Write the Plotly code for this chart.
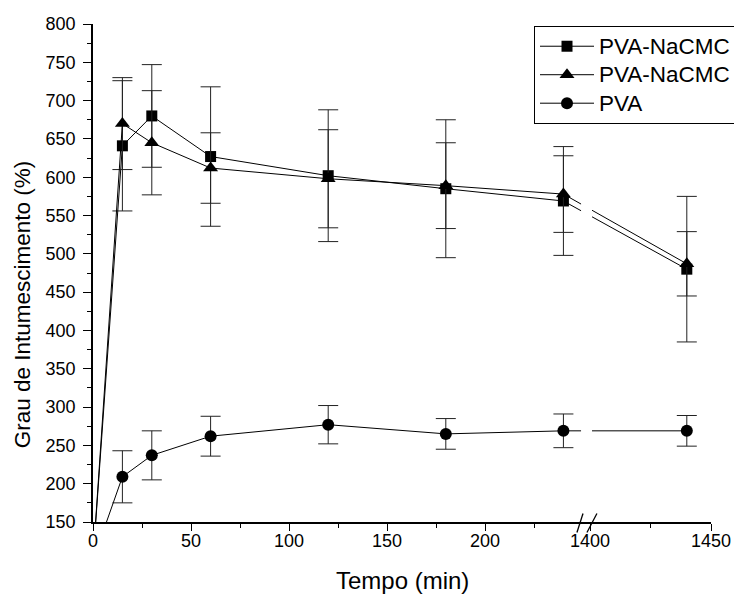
import plotly.graph_objects as go

# ---- data (time in minutes, swelling degree in %) ----
time = [0, 15, 30, 60, 120, 180, 240, 1440]
nacmc_a = [100, 641, 680, 627, 602, 585, 569, 480]
nacmc_a_err = [0, 85, 67, 91, 86, 90, 71, 95]
nacmc_b = [100, 670, 645, 612, 598, 589, 578, 487]
nacmc_b_err = [0, 60, 68, 46, 64, 56, 50, 42]
pva = [100, 209, 237, 262, 277, 265, 269, 269]
pva_err = [0, 34, 32, 26, 25, 20, 22, 20]

names = ["PVA-NaCMC", "PVA-NaCMC", "PVA"]
x_major = [0, 50, 100, 150, 200, 1400, 1450]
x_minor = [25, 75, 125, 175, 225, 1425]

# ---- broken x axis: 0-250 linear, then 1400-1450 on a second scale ----
SEG1_END = 250
SEG2_START = 1400
SEG2_OFFSET = 253.6
SEG2_SCALE = 1.234


def to_axis(t):
    return t if t <= SEG1_END else SEG2_OFFSET + (t - SEG2_START) * SEG2_SCALE


X_MAX = to_axis(1450)
FONT = "Arial, Liberation Sans, sans-serif"

fig = go.Figure()
series = [
    (nacmc_a, nacmc_a_err, "square", 11),
    (nacmc_b, nacmc_b_err, "triangle-up", 13),
    (pva, pva_err, "circle", 12),
]
for (vals, errs, sym, size), name in zip(series, names):
    fig.add_trace(go.Scatter(
        x=[to_axis(t) for t in time], y=vals,
        name='<span style="font-size:22.5px">' + name + "</span>",
        mode="lines+markers",
        line=dict(color="black", width=1),
        marker=dict(symbol=sym, size=size, color="black"),
        error_y=dict(type="data", array=errs, visible=True,
                     color="#222222", thickness=1, width=10),
    ))

# gap in lines at the axis break and the break marks
gx0, gx1 = 249.0 / X_MAX, 254.6 / X_MAX
fig.add_shape(type="rect", xref="paper", yref="paper",
              x0=gx0, x1=gx1, y0=0.008, y1=1.0,
              fillcolor="white", line=dict(width=0), layer="above")
for a, b in [(246.9, 250.0), (252.0, 257.1)]:
    fig.add_shape(type="line", xref="paper", yref="paper",
                  x0=a / X_MAX, x1=b / X_MAX, y0=-0.021, y1=0.017,
                  line=dict(color="black", width=1.3), layer="above")

fig.add_annotation(text="Grau de Intumescimento (%)", xref="paper", yref="paper",
                   x=-0.115, y=0.437, textangle=-90, showarrow=False,
                   font=dict(family=FONT, size=22.5, color="black"),
                   xanchor="center", yanchor="middle")
fig.add_annotation(text="Tempo (min)", xref="paper", yref="paper",
                   x=0.501, y=-0.117, showarrow=False,
                   font=dict(family=FONT, size=24, color="black"),
                   xanchor="center", yanchor="middle")

fig.update_layout(
    width=734, height=595,
    margin=dict(l=93, r=23, t=24, b=73, autoexpand=False),
    paper_bgcolor="white", plot_bgcolor="white",
    font=dict(family=FONT, color="black", size=18),
    showlegend=True,
    legend=dict(x=0.7136, y=0.996, xanchor="left", yanchor="top",
                bordercolor="black", borderwidth=1, bgcolor="white",
                font=dict(family=FONT, size=19.6, color="black"),
                itemwidth=54, tracegroupgap=0),
    xaxis=dict(range=[0, X_MAX], showgrid=False, zeroline=False,
               showline=True, linecolor="black", linewidth=1.6,
               ticks="outside", ticklen=7, tickwidth=1.3, tickcolor="black",
               tickmode="array", tickvals=[to_axis(t) for t in x_major],
               ticktext=[str(t) for t in x_major],
               minor=dict(tickmode="array", tickvals=[to_axis(t) for t in x_minor],
                          ticks="outside", ticklen=4, tickwidth=1.3, tickcolor="black"),
               tickfont=dict(size=18), ticklabelstandoff=-5),
    yaxis=dict(range=[150, 800], showgrid=False, zeroline=False,
               showline=True, linecolor="black", linewidth=1.6,
               ticks="outside", ticklen=8, tickwidth=1.3, tickcolor="black",
               tick0=150, dtick=50,
               minor=dict(dtick=25, ticks="outside", ticklen=4, tickwidth=1.3,
                          tickcolor="black"),
               tickfont=dict(size=18), ticklabelstandoff=4),
)

fig.write_html("out.html")
